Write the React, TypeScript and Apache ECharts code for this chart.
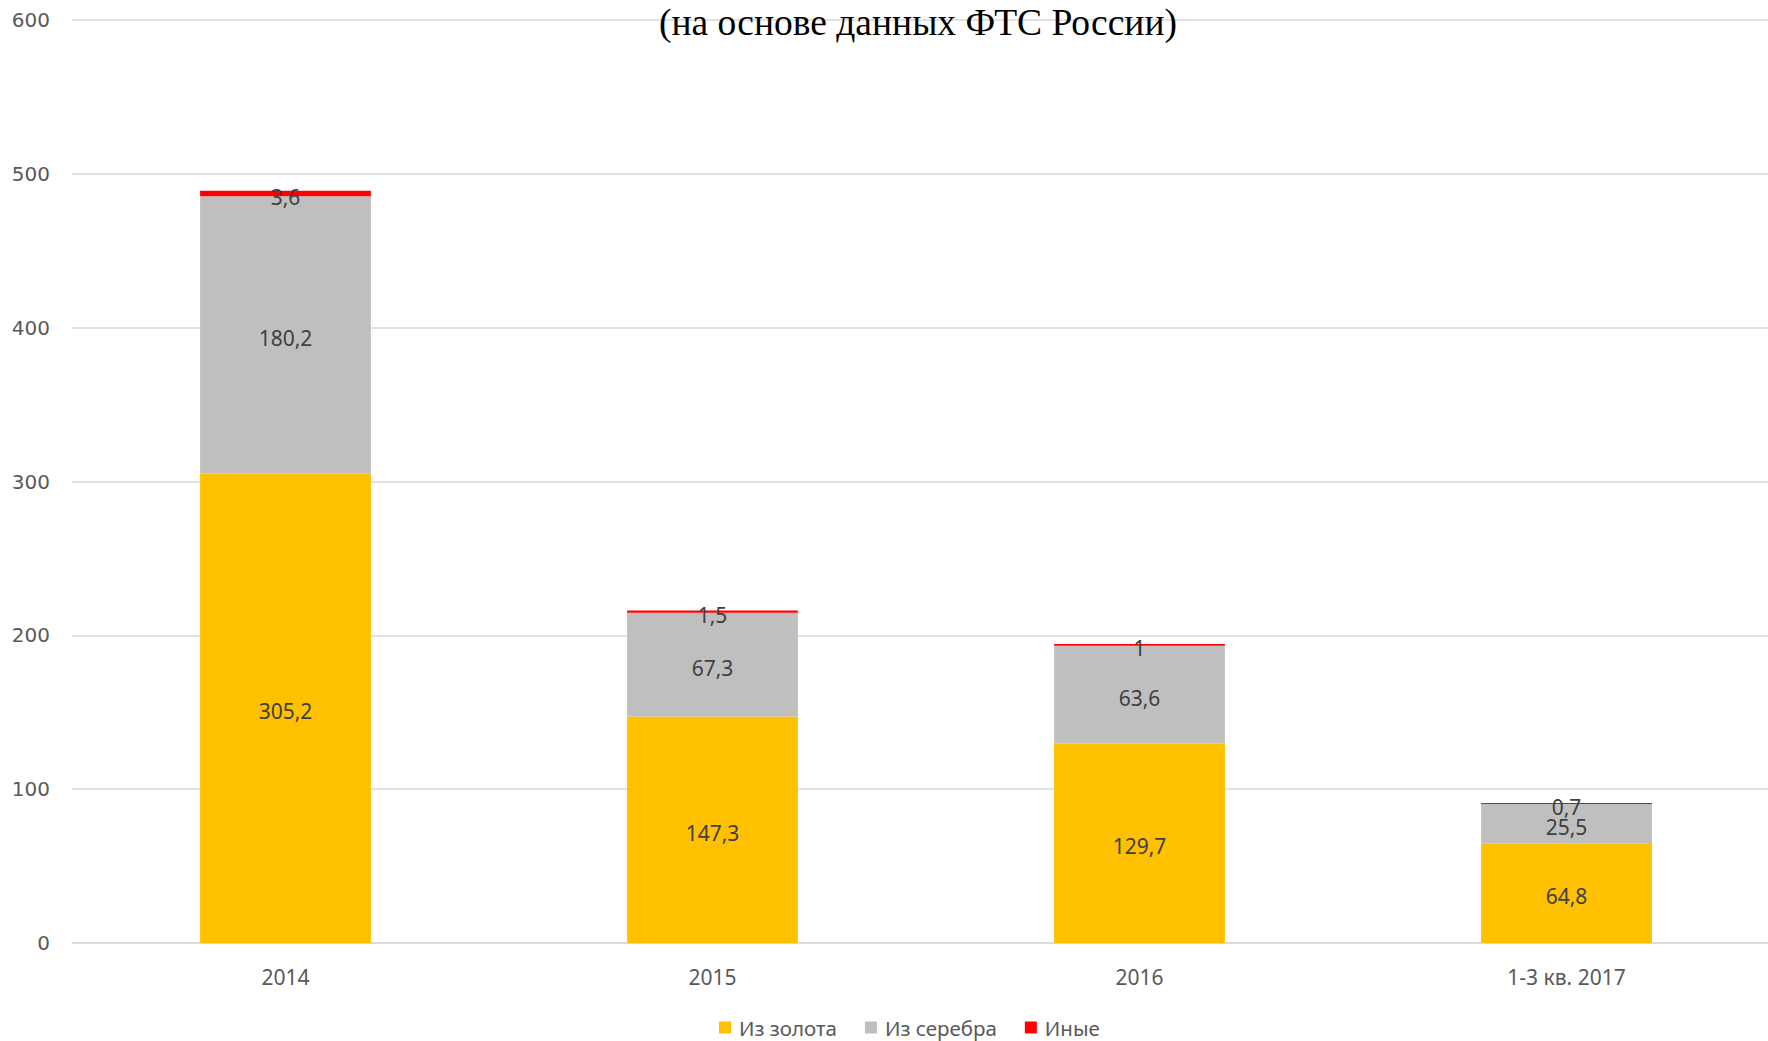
import React, { useEffect, useRef } from "react";
import * as echarts from "echarts";

const categories = ["2014", "2015", "2016", "1-3 кв. 2017"];
const goldValues = [305.2, 147.3, 129.7, 64.8];
const silverValues = [180.2, 67.3, 63.6, 25.5];
const otherValues = [3.6, 1.5, 1, 0.7];
const seriesNames = ["Из золота", "Из серебра", "Иные"];
const titleText = "(на основе данных ФТС России)";

const fmt = (v: number) => String(v).replace(".", ",");

export default function App() {
  const ref = useRef<HTMLDivElement>(null);
  useEffect(() => {
    if (!ref.current) return;
    const chart = echarts.init(ref.current, undefined, { renderer: "svg" });
    const labelStyle = {
      show: true,
      position: "inside" as const,
      offset: [0, 3],
      color: "#404040",
      fontFamily: "Noto Sans",
      fontSize: 21,
      formatter: (p: any) => fmt(p.value),
    };
    chart.setOption({
      animation: false,
      backgroundColor: "#ffffff",
      title: {
        text: titleText,
        left: 913,
        textAlign: "center",
        top: -2,
        textStyle: {
          fontFamily: "Liberation Serif",
          fontWeight: "normal",
          fontSize: 37.5,
          color: "#000000",
        },
      },
      legend: {
        data: seriesNames,
        bottom: -2,
        left: 714,
        itemWidth: 12,
        itemHeight: 12,
        itemGap: 28,
        icon: "rect",
        textStyle: {
          fontFamily: "Noto Sans",
          fontSize: 20.5,
          color: "#595959",
          padding: [0, 0, 0, 3],
        },
      },
      grid: { left: 72, right: 0, top: 20, bottom: 98, containLabel: false },
      xAxis: {
        type: "category",
        data: categories,
        axisLine: { show: true, lineStyle: { color: "#D9D9D9", width: 1.5 } },
        axisTick: { show: false },
        axisLabel: {
          color: "#595959",
          fontFamily: "Noto Sans",
          fontSize: 21,
          margin: 23,
        },
      },
      yAxis: {
        type: "value",
        min: 0,
        max: 600,
        interval: 100,
        axisLine: { show: false },
        axisTick: { show: false },
        splitLine: { lineStyle: { color: "#D9D9D9", width: 1.5 } },
        axisLabel: {
          color: "#595959",
          fontFamily: "DejaVu Sans",
          fontSize: 20,
          margin: 22,
        },
      },
      series: [
        {
          name: seriesNames[0],
          type: "bar",
          stack: "total",
          barWidth: "40%",
          itemStyle: { color: "#FFC000" },
          label: labelStyle,
          data: goldValues,
        },
        {
          name: seriesNames[1],
          type: "bar",
          stack: "total",
          barWidth: "40%",
          itemStyle: { color: "#BFBFBF" },
          label: labelStyle,
          data: silverValues,
        },
        {
          name: seriesNames[2],
          type: "bar",
          stack: "total",
          barWidth: "40%",
          itemStyle: { color: "#FF0000" },
          label: labelStyle,
          data: otherValues,
        },
      ],
    });
    return () => chart.dispose();
  }, []);
  return (
    <div
      style={{
        position: "fixed",
        left: 0,
        top: 0,
        width: 1768,
        height: 1041,
        overflow: "hidden",
      }}
    >
      <div ref={ref} style={{ width: 1780, height: 1041 }} />
    </div>
  );
}
